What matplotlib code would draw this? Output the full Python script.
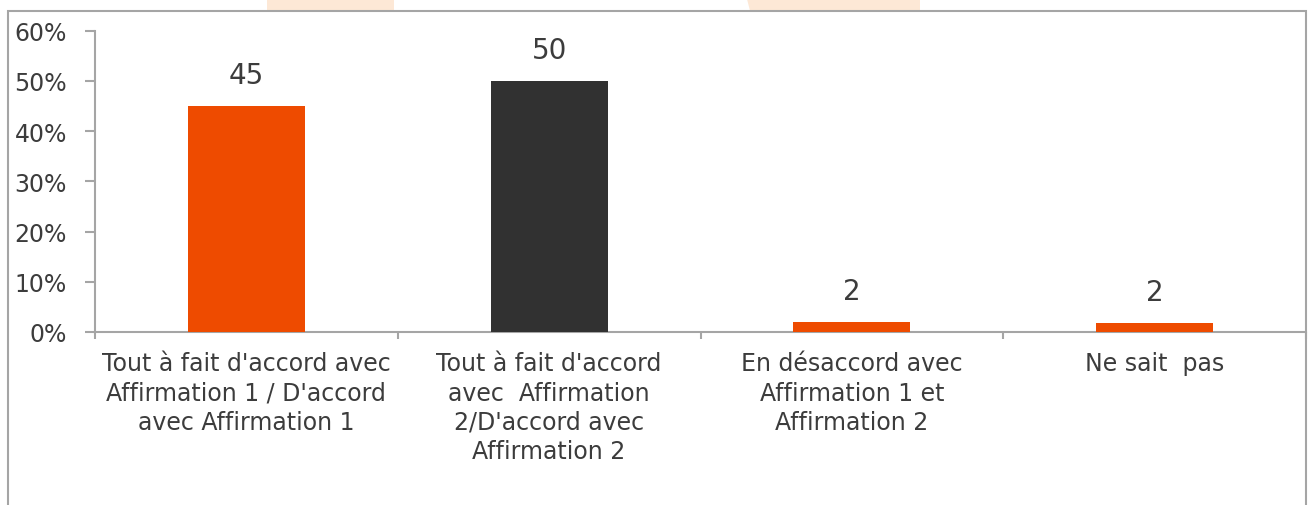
import matplotlib
matplotlib.use("Agg")
import matplotlib.pyplot as plt
from matplotlib.patches import Rectangle, Polygon

categories = [
    "Tout à fait d'accord avec\nAffirmation 1 / D'accord\navec Affirmation 1",
    "Tout à fait d'accord\navec  Affirmation\n2/D'accord avec\nAffirmation 2",
    "En désaccord avec\nAffirmation 1 et\nAffirmation 2",
    "Ne sait  pas",
]
values = [45, 50, 2, 1.8]
data_labels = ["45", "50", "2", "2"]
bar_colors = ["#EE4B00", "#313131", "#EE4B00", "#EE4B00"]
y_ticks = [0, 10, 20, 30, 40, 50, 60]
y_tick_labels = ["0%", "10%", "20%", "30%", "40%", "50%", "60%"]

W, H = 1308, 506
text_color = "#3c3c3c"
axis_color = "#a5a5a5"

plt.rcParams['font.family'] = ['DejaVu Sans']

fig = plt.figure(figsize=(W / 100, H / 100), dpi=100)

# faint watermark shapes behind the frame
fig.patches.append(Polygon([(267 / W, 1), (394 / W, 1), (394 / W, 0.9), (267 / W, 0.9)],
                           closed=True, transform=fig.transFigure, facecolor="#fde8d6",
                           edgecolor="none", zorder=0))
fig.patches.append(Polygon([(747 / W, 1), (920 / W, 1), (920 / W, 0.9), (760 / W, 0.9)],
                           closed=True, transform=fig.transFigure, facecolor="#fde8d6",
                           edgecolor="none", zorder=0))
# outer frame
fig.patches.append(Rectangle((8 / W, -0.05), (1306 - 8) / W, 1.05 - 12 / H,
                             transform=fig.transFigure, facecolor="white",
                             edgecolor=axis_color, linewidth=1.5, zorder=1))

ax = fig.add_axes([95 / W, (H - 333) / H, (1306 - 95) / W, (333 - 31.6) / H])
ax.set_facecolor("none")
ax.set_zorder(2)

x = list(range(len(categories)))
bars = ax.bar(x, values, width=0.386, color=bar_colors, zorder=3)

for xi, v, lab in zip(x, values, data_labels):
    ax.annotate(lab, (xi, v), xytext=(0, 12), textcoords="offset points",
                ha="center", va="bottom", fontsize=20, color=text_color)

ax.set_xlim(-0.5, len(categories) - 0.5)
ax.set_ylim(0, 60)
ax.set_yticks(y_ticks)
ax.set_yticklabels(y_tick_labels)

ax.set_xticks([i - 0.5 for i in range(len(categories) + 1)])
ax.set_xticklabels([])
ax.set_xticks(x, minor=True)
ax.set_xticklabels(categories, minor=True, fontsize=17, color=text_color,
                   linespacing=1.27)
ax.tick_params(axis="x", which="major", length=5, width=1.5, color=axis_color)
ax.tick_params(axis="x", which="minor", length=0, pad=14)
ax.tick_params(axis="y", length=7.2, width=1.5, color=axis_color, pad=13,
               labelsize=17, labelcolor=text_color)

for s in ["top", "right"]:
    ax.spines[s].set_visible(False)
for s in ["left", "bottom"]:
    ax.spines[s].set_color(axis_color)
    ax.spines[s].set_linewidth(1.5)

fig.savefig("out.png", dpi=100)
